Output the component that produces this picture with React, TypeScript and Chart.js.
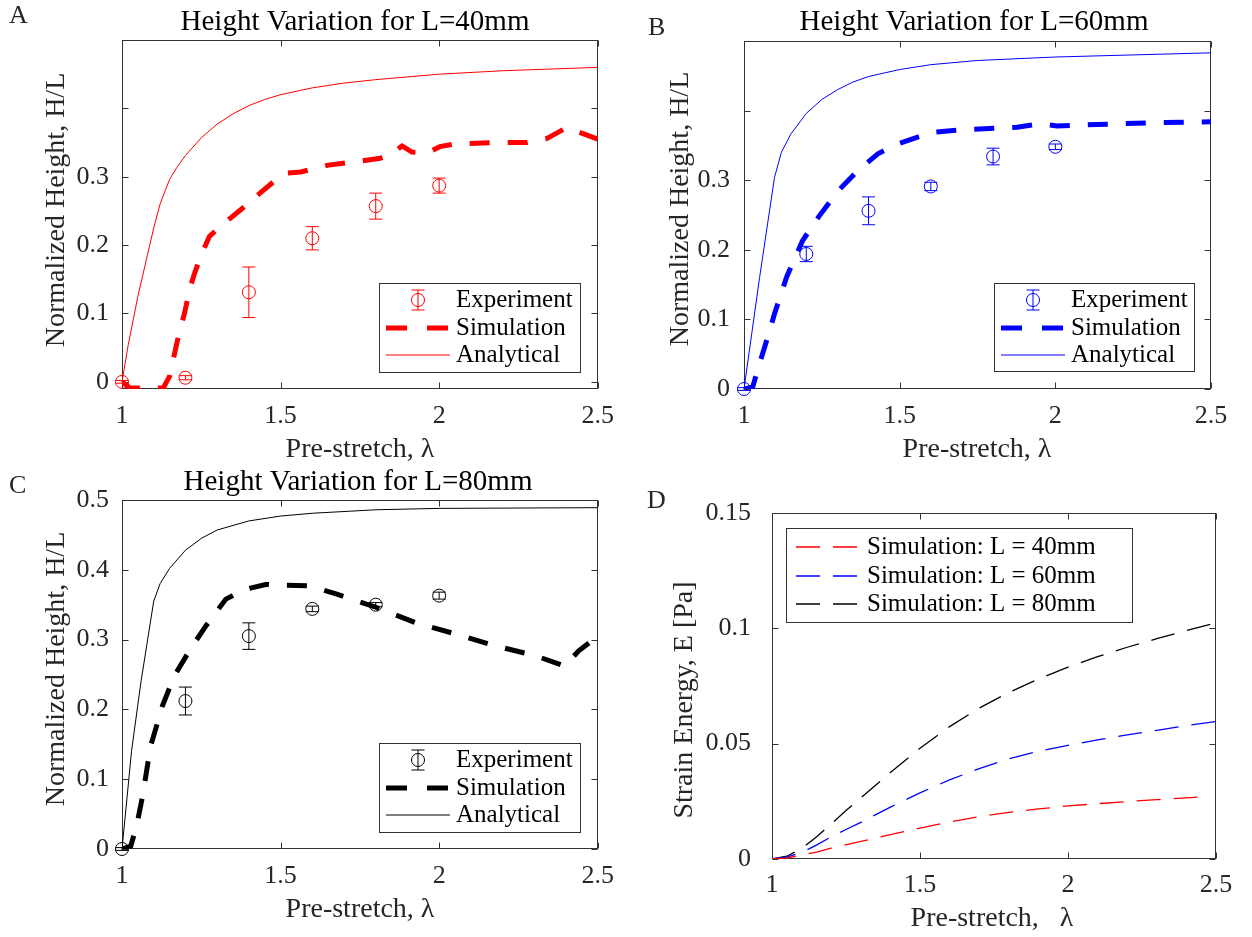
import React, { useEffect, useRef } from 'react';
import { Chart, registerables } from 'chart.js';

Chart.register(...registerables);

const FONT = '"Liberation Serif", "Times New Roman", serif';
const AXIS_COLOR = '#333333';

// ---------- shared ticks ----------
const xTickValues = [1, 1.5, 2, 2.5];
const xTickLabels = ['1', '1.5', '2', '2.5'];
const yTickValuesAB = [0, 0.1, 0.2, 0.3, 0.4];
const yTickLabelsAB = ['0', '0.1', '0.2', '0.3', ''];
const yTickValuesC = [0, 0.1, 0.2, 0.3, 0.4, 0.5];
const yTickLabelsC = ['0', '0.1', '0.2', '0.3', '0.4', '0.5'];
const yTickValuesD = [0, 0.05, 0.1, 0.15];
const yTickLabelsD = ['0', '0.05', '0.1', '0.15'];

// ---------- Panel A (L = 40mm) ----------
const lambdaExpA = [1.0, 1.2, 1.4, 1.6, 1.8, 2.0];
const heightExpA = [0.0, 0.006, 0.131, 0.21, 0.257, 0.287];
const errorExpA = [0.002, 0.003, 0.037, 0.017, 0.019, 0.011];
const lambdaSimA = [1.0, 1.025, 1.06, 1.1, 1.13, 1.15, 1.166, 1.18, 1.197, 1.213, 1.229, 1.25, 1.276, 1.317, 1.375, 1.422, 1.484, 1.513, 1.563, 1.651, 1.739, 1.814, 1.851, 1.883, 1.914, 1.964, 2.002, 2.052, 2.177, 2.277, 2.34, 2.402, 2.5];
const heightSimA = [0.0, -0.009, -0.009, -0.009, -0.009, 0.008, 0.042, 0.071, 0.1, 0.135, 0.159, 0.186, 0.213, 0.23, 0.252, 0.271, 0.295, 0.305, 0.307, 0.317, 0.322, 0.327, 0.334, 0.345, 0.336, 0.335, 0.344, 0.348, 0.35, 0.35, 0.356, 0.372, 0.355];
const lambdaAnaA = [1.0, 1.02, 1.05, 1.08, 1.1, 1.12, 1.15, 1.175, 1.2, 1.25, 1.3, 1.35, 1.4, 1.45, 1.5, 1.6, 1.7, 1.8, 1.9, 2.0, 2.2, 2.5];
const heightAnaA = [0.0, 0.055, 0.125, 0.185, 0.225, 0.26, 0.296, 0.315, 0.331, 0.357, 0.377, 0.392, 0.404, 0.413, 0.42, 0.43, 0.437, 0.442, 0.446, 0.45, 0.455, 0.46];

// ---------- Panel B (L = 60mm) ----------
const lambdaExpB = [1.0, 1.2, 1.4, 1.6, 1.8, 2.0];
const heightExpB = [0.0, 0.194, 0.256, 0.291, 0.334, 0.348];
const errorExpB = [0.002, 0.011, 0.02, 0.006, 0.012, 0.004];
const lambdaSimB = [1.0, 1.028, 1.047, 1.073, 1.098, 1.137, 1.188, 1.239, 1.303, 1.366, 1.43, 1.494, 1.558, 1.609, 1.686, 1.814, 1.877, 1.903, 1.954, 2.005, 2.133, 2.26, 2.5];
const heightSimB = [0.0, 0.003, 0.032, 0.07, 0.108, 0.161, 0.213, 0.247, 0.285, 0.314, 0.338, 0.352, 0.362, 0.369, 0.372, 0.375, 0.376, 0.378, 0.381, 0.378, 0.38, 0.382, 0.384];
const lambdaAnaB = [1.0, 1.05, 1.098, 1.12, 1.15, 1.2, 1.25, 1.3, 1.35, 1.4, 1.5, 1.6, 1.75, 2.0, 2.25, 2.5];
const heightAnaB = [0.0, 0.16, 0.304, 0.34, 0.366, 0.396, 0.416, 0.43, 0.441, 0.449, 0.459, 0.466, 0.472, 0.477, 0.48, 0.483];

// ---------- Panel C (L = 80mm) ----------
const lambdaExpC = [1.0, 1.2, 1.4, 1.6, 1.8, 2.0];
const heightExpC = [0.0, 0.212, 0.305, 0.344, 0.35, 0.363];
const errorExpC = [0.002, 0.02, 0.019, 0.004, 0.003, 0.005];
const lambdaSimC = [1.0, 1.0275, 1.046, 1.065, 1.09, 1.1275, 1.165, 1.215, 1.265, 1.3275, 1.39, 1.4525, 1.515, 1.59, 1.6775, 1.8025, 1.9275, 2.0525, 2.1775, 2.3025, 2.396, 2.44, 2.5];
const heightSimC = [0.0, 0.004, 0.033, 0.076, 0.147, 0.205, 0.248, 0.286, 0.32, 0.358, 0.372, 0.379, 0.378, 0.377, 0.365, 0.346, 0.324, 0.308, 0.291, 0.277, 0.262, 0.284, 0.305];
const lambdaAnaC = [1.0, 1.013, 1.03, 1.06, 1.1, 1.12, 1.15, 1.2, 1.25, 1.3, 1.4, 1.5, 1.6, 1.8, 2.0, 2.5];
const heightAnaC = [0.0, 0.06, 0.14, 0.24, 0.355, 0.38, 0.402, 0.428, 0.445, 0.457, 0.47, 0.477, 0.481, 0.486, 0.488, 0.489];

// ---------- Panel D (strain energy) ----------
const lambdaD40 = [1.0, 1.05, 1.1, 1.15, 1.2, 1.3, 1.4, 1.5, 1.6, 1.7, 1.8, 1.9, 2.0, 2.1, 2.2, 2.3, 2.4, 2.45];
const energyD40 = [0.0, 0.0004, 0.0017, 0.003, 0.0047, 0.0076, 0.0106, 0.0134, 0.0161, 0.0184, 0.0202, 0.0217, 0.023, 0.024, 0.0249, 0.0257, 0.0265, 0.0269];
const lambdaD60 = [1.0, 1.05, 1.1, 1.15, 1.2, 1.25, 1.3, 1.4, 1.5, 1.6, 1.7, 1.8, 1.9, 2.0, 2.1, 2.2, 2.3, 2.4, 2.5];
const energyD60 = [0.0, 0.0008, 0.0028, 0.006, 0.0096, 0.0128, 0.0159, 0.0225, 0.0287, 0.0343, 0.0392, 0.0434, 0.0467, 0.0493, 0.0516, 0.0538, 0.0558, 0.0578, 0.0596];
const lambdaD80 = [1.0, 1.05, 1.1, 1.15, 1.2, 1.25, 1.3, 1.4, 1.5, 1.6, 1.7, 1.8, 1.9, 2.0, 2.1, 2.2, 2.3, 2.4, 2.5];
const energyD80 = [0.0, 0.0012, 0.0045, 0.0095, 0.0152, 0.021, 0.0265, 0.0375, 0.048, 0.0574, 0.0654, 0.0722, 0.078, 0.0832, 0.0877, 0.0918, 0.0955, 0.099, 0.1024];

const zip = (xs: number[], ys: number[]) => xs.map((x, i) => ({ x, y: ys[i] }));

type Box = { x: number; y: number; w: number; h: number };
type Area = { l: number; t: number; r: number; b: number };
type TextItem = { text: string; x: number; y: number; size: number; rotate?: boolean; align?: CanvasTextAlign; color?: string };
type LegendRow = { kind: 'exp' | 'sim' | 'ana' | 'dash'; label: string; y: number; color: string };
type LegendSpec = { box: Area; rows: LegendRow[]; symX0: number; symX1: number; markerX: number; textX: number; size: number };
type ErrSpec = { xs: number[]; ys: number[]; errs: number[]; color: string };

type Spec = {
  canvas: Box;
  area: Area;
  yMin: number;
  yMax: number;
  yTicks: number[];
  yLabels: string[];
  yPad: number;
  xPad: number;
  datasets: any[];
  errors: ErrSpec[];
  texts: TextItem[];
  legend: LegendSpec;
};

const YW = 90;
const XH = 50;
const SIM_DASH = [20, 18];
const D_DASH = [24, 13];

function expDataset(xs: number[], ys: number[], color: string) {
  return {
    data: zip(xs, ys),
    showLine: false,
    borderColor: color,
    backgroundColor: 'rgba(0,0,0,0)',
    pointRadius: 6.5,
    pointBorderWidth: 1,
    pointStyle: 'circle',
    clip: false,
  };
}
function simDataset(xs: number[], ys: number[], color: string) {
  return {
    data: zip(xs, ys),
    borderColor: color,
    borderWidth: 5,
    borderDash: SIM_DASH,
    borderCapStyle: 'butt',
    pointRadius: 0,
    tension: 0,
    fill: false,
  };
}
function anaDataset(xs: number[], ys: number[], color: string) {
  return {
    data: zip(xs, ys),
    borderColor: color,
    borderWidth: 1,
    pointRadius: 0,
    tension: 0,
    fill: false,
  };
}
function dDataset(xs: number[], ys: number[], color: string) {
  return {
    data: zip(xs, ys),
    borderColor: color,
    borderWidth: 1.3,
    borderDash: D_DASH,
    borderCapStyle: 'butt',
    pointRadius: 0,
    tension: 0,
    fill: false,
  };
}

function heightLegend(box: Area, color: string): LegendSpec {
  const cy = box.t + 17;
  return {
    box,
    rows: [
      { kind: 'exp', label: 'Experiment', y: cy, color },
      { kind: 'sim', label: 'Simulation', y: cy + 28, color },
      { kind: 'ana', label: 'Analytical', y: cy + 55, color },
    ],
    symX0: box.l + 7,
    symX1: box.l + 71,
    markerX: box.l + 39,
    textX: box.l + 77,
    size: 25,
  };
}

const specA: Spec = {
  canvas: { x: 0, y: 0, w: 626, h: 468 },
  area: { l: 122, t: 40, r: 599, b: 389 },
  yMin: -0.0105,
  yMax: 0.5,
  yTicks: yTickValuesAB,
  yLabels: yTickLabelsAB,
  yPad: 13,
  xPad: 12,
  datasets: [
    expDataset(lambdaExpA, heightExpA, '#ff0000'),
    simDataset(lambdaSimA, heightSimA, '#ff0000'),
    anaDataset(lambdaAnaA, heightAnaA, '#ff0000'),
  ],
  errors: [{ xs: lambdaExpA, ys: heightExpA, errs: errorExpA, color: '#ff0000' }],
  texts: [
    { text: 'A', x: 9, y: 23, size: 26 },
    { text: 'Height Variation for L=40mm', x: 355, y: 30, size: 29, align: 'center', color: '#000' },
    { text: 'Pre-stretch, λ', x: 360, y: 457, size: 28, align: 'center' },
    { text: 'Normalized Height, H/L', x: 64, y: 210, size: 28, rotate: true },
  ],
  legend: heightLegend({ l: 379, t: 283, r: 580, b: 372 }, '#ff0000'),
};

const specB: Spec = {
  canvas: { x: 626, y: 0, w: 626, h: 468 },
  area: { l: 744, t: 41, r: 1211, b: 389 },
  yMin: 0,
  yMax: 0.5,
  yTicks: yTickValuesAB,
  yLabels: yTickLabelsAB,
  yPad: 14,
  xPad: 12,
  datasets: [
    expDataset(lambdaExpB, heightExpB, '#0000ff'),
    simDataset(lambdaSimB, heightSimB, '#0000ff'),
    anaDataset(lambdaAnaB, heightAnaB, '#0000ff'),
  ],
  errors: [{ xs: lambdaExpB, ys: heightExpB, errs: errorExpB, color: '#0000ff' }],
  texts: [
    { text: 'B', x: 648, y: 35, size: 26 },
    { text: 'Height Variation for L=60mm', x: 974, y: 30, size: 29, align: 'center', color: '#000' },
    { text: 'Pre-stretch, λ', x: 977, y: 457, size: 28, align: 'center' },
    { text: 'Normalized Height, H/L', x: 688, y: 209, size: 28, rotate: true },
  ],
  legend: heightLegend({ l: 994, t: 283, r: 1194, b: 371 }, '#0000ff'),
};

const specC: Spec = {
  canvas: { x: 0, y: 468, w: 626, h: 469 },
  area: { l: 122, t: 500, r: 599, b: 849 },
  yMin: 0,
  yMax: 0.5,
  yTicks: yTickValuesC,
  yLabels: yTickLabelsC,
  yPad: 13,
  xPad: 12,
  datasets: [
    expDataset(lambdaExpC, heightExpC, '#000000'),
    simDataset(lambdaSimC, heightSimC, '#000000'),
    anaDataset(lambdaAnaC, heightAnaC, '#000000'),
  ],
  errors: [{ xs: lambdaExpC, ys: heightExpC, errs: errorExpC, color: '#000000' }],
  texts: [
    { text: 'C', x: 9, y: 493, size: 26 },
    { text: 'Height Variation for L=80mm', x: 358, y: 490, size: 29, align: 'center', color: '#000' },
    { text: 'Pre-stretch, λ', x: 360, y: 917, size: 28, align: 'center' },
    { text: 'Normalized Height, H/L', x: 64, y: 669, size: 28, rotate: true },
  ],
  legend: heightLegend({ l: 379, t: 743, r: 580, b: 832 }, '#000000'),
};

const specD: Spec = {
  canvas: { x: 626, y: 468, w: 626, h: 469 },
  area: { l: 772, t: 513, r: 1216, b: 859 },
  yMin: 0,
  yMax: 0.15,
  yTicks: yTickValuesD,
  yLabels: yTickLabelsD,
  yPad: 21,
  xPad: 11,
  datasets: [
    dDataset(lambdaD40, energyD40, '#ff0000'),
    dDataset(lambdaD60, energyD60, '#0000ff'),
    dDataset(lambdaD80, energyD80, '#000000'),
  ],
  errors: [],
  texts: [
    { text: 'D', x: 647, y: 508, size: 26 },
    { text: 'Pre-stretch,   λ', x: 992, y: 926, size: 28, align: 'center' },
    { text: 'Strain Energy, E [Pa]', x: 692, y: 700, size: 28, rotate: true },
  ],
  legend: {
    box: { l: 786, t: 528, r: 1132, b: 622 },
    rows: [
      { kind: 'dash', label: 'Simulation: L = 40mm', y: 547, color: '#ff0000' },
      { kind: 'dash', label: 'Simulation: L = 60mm', y: 576, color: '#0000ff' },
      { kind: 'dash', label: 'Simulation: L = 80mm', y: 604, color: '#000000' },
    ],
    symX0: 796,
    symX1: 857,
    markerX: 826,
    textX: 867,
    size: 25,
  },
};

function makeDeco(spec: Spec) {
  const ox = spec.canvas.x;
  const oy = spec.canvas.y;
  return {
    id: 'deco',
    beforeDatasetsDraw(chart: any) {
      const { ctx, chartArea: a, scales } = chart;
      ctx.save();
      ctx.strokeStyle = AXIS_COLOR;
      ctx.lineWidth = 1;
      ctx.setLineDash([]);
      const L = Math.round(a.left) + 0.5;
      const T = Math.round(a.top) + 0.5;
      const R = Math.round(a.right) - 0.5;
      const B = Math.round(a.bottom) - 0.5;
      ctx.strokeRect(L, T, R - L, B - T);
      const TL = 6;
      ctx.beginPath();
      for (const v of xTickValues) {
        const px = Math.round(scales.x.getPixelForValue(v)) + 0.5;
        ctx.moveTo(px, B);
        ctx.lineTo(px, B - TL);
        ctx.moveTo(px, T);
        ctx.lineTo(px, T + TL);
      }
      for (const v of spec.yTicks) {
        const py = Math.round(scales.y.getPixelForValue(v)) + 0.5;
        ctx.moveTo(L, py);
        ctx.lineTo(L + TL, py);
        ctx.moveTo(R, py);
        ctx.lineTo(R - TL, py);
      }
      ctx.stroke();
      ctx.restore();
    },
    afterDatasetsDraw(chart: any) {
      const { ctx, scales } = chart;
      ctx.save();
      ctx.lineWidth = 1;
      ctx.setLineDash([]);
      for (const e of spec.errors) {
        ctx.strokeStyle = e.color;
        e.xs.forEach((xv, i) => {
          const px = scales.x.getPixelForValue(xv);
          const top = scales.y.getPixelForValue(e.ys[i] + e.errs[i]);
          const bot = scales.y.getPixelForValue(e.ys[i] - e.errs[i]);
          const cw = 6.5;
          ctx.beginPath();
          ctx.moveTo(px, top);
          ctx.lineTo(px, bot);
          ctx.moveTo(px - cw, top);
          ctx.lineTo(px + cw, top);
          ctx.moveTo(px - cw, bot);
          ctx.lineTo(px + cw, bot);
          ctx.stroke();
        });
      }
      ctx.restore();
    },
    afterDraw(chart: any) {
      const { ctx } = chart;
      ctx.save();
      for (const t of spec.texts) {
        ctx.font = `${t.size}px ${FONT}`;
        ctx.fillStyle = t.color || '#262626';
        ctx.textBaseline = 'alphabetic';
        if (t.rotate) {
          ctx.save();
          ctx.translate(t.x - ox, t.y - oy);
          ctx.rotate(-Math.PI / 2);
          ctx.textAlign = 'center';
          ctx.fillText(t.text, 0, 0);
          ctx.restore();
        } else {
          ctx.textAlign = t.align || 'left';
          ctx.fillText(t.text, t.x - ox, t.y - oy);
        }
      }
      const lg = spec.legend;
      const bl = Math.round(lg.box.l - ox) + 0.5;
      const bt = Math.round(lg.box.t - oy) + 0.5;
      const bw = Math.round(lg.box.r - lg.box.l);
      const bh = Math.round(lg.box.b - lg.box.t);
      ctx.fillStyle = '#ffffff';
      ctx.fillRect(bl, bt, bw, bh);
      ctx.strokeStyle = AXIS_COLOR;
      ctx.lineWidth = 1;
      ctx.setLineDash([]);
      ctx.strokeRect(bl, bt, bw, bh);
      for (const row of lg.rows) {
        const y = row.y - oy;
        const x0 = lg.symX0 - ox;
        const x1 = lg.symX1 - ox;
        ctx.strokeStyle = row.color;
        ctx.lineCap = 'butt';
        if (row.kind === 'exp') {
          const mx = lg.markerX - ox;
          ctx.lineWidth = 1;
          ctx.setLineDash([]);
          ctx.beginPath();
          ctx.arc(mx, y, 6.5, 0, Math.PI * 2);
          ctx.moveTo(mx, y - 10);
          ctx.lineTo(mx, y + 10);
          ctx.moveTo(mx - 6.5, y - 10);
          ctx.lineTo(mx + 6.5, y - 10);
          ctx.moveTo(mx - 6.5, y + 10);
          ctx.lineTo(mx + 6.5, y + 10);
          ctx.stroke();
        } else if (row.kind === 'sim') {
          ctx.lineWidth = 5;
          ctx.setLineDash([21, 20]);
          ctx.beginPath();
          ctx.moveTo(x0, y);
          ctx.lineTo(x1, y);
          ctx.stroke();
        } else if (row.kind === 'dash') {
          ctx.lineWidth = 1.3;
          ctx.setLineDash(D_DASH);
          ctx.beginPath();
          ctx.moveTo(x0, y);
          ctx.lineTo(x1, y);
          ctx.stroke();
        } else {
          ctx.lineWidth = 1;
          ctx.setLineDash([]);
          ctx.beginPath();
          ctx.moveTo(x0, y);
          ctx.lineTo(x1, y);
          ctx.stroke();
        }
        ctx.setLineDash([]);
        ctx.font = `${lg.size}px ${FONT}`;
        ctx.fillStyle = '#000000';
        ctx.textAlign = 'left';
        ctx.textBaseline = 'middle';
        ctx.fillText(row.label, lg.textX - ox, y);
      }
      ctx.restore();
    },
  };
}

function buildConfig(spec: Spec): any {
  const { canvas: c, area: a } = spec;
  return {
    type: 'line',
    data: { datasets: spec.datasets },
    options: {
      animation: false,
      responsive: false,
      devicePixelRatio: 1,
      events: [],
      layout: {
        padding: {
          left: a.l - c.x - YW,
          top: a.t - c.y,
          right: c.x + c.w - a.r,
          bottom: c.y + c.h - a.b - XH,
        },
      },
      plugins: {
        legend: { display: false },
        tooltip: { enabled: false },
        title: { display: false },
      },
      scales: {
        x: {
          type: 'linear',
          min: 1,
          max: 2.5,
          bounds: 'data',
          grid: { display: false, drawTicks: false },
          border: { display: false },
          ticks: {
            padding: spec.xPad,
            color: '#262626',
            font: { family: FONT, size: 26 },
            maxRotation: 0,
            autoSkip: false,
            callback: (_v: any, i: number) => xTickLabels[i],
          },
          afterBuildTicks: (s: any) => {
            s.ticks = xTickValues.map((v) => ({ value: v }));
          },
          afterFit: (s: any) => {
            s.height = XH;
          },
        },
        y: {
          type: 'linear',
          min: spec.yMin,
          max: spec.yMax,
          bounds: 'data',
          grid: { display: false, drawTicks: false },
          border: { display: false },
          ticks: {
            padding: spec.yPad,
            color: '#262626',
            font: { family: FONT, size: 26 },
            autoSkip: false,
            callback: (_v: any, i: number) => spec.yLabels[i],
          },
          afterBuildTicks: (s: any) => {
            s.ticks = spec.yTicks.map((v) => ({ value: v }));
          },
          afterFit: (s: any) => {
            s.width = YW;
          },
        },
      },
    },
    plugins: [makeDeco(spec)],
  };
}

function Panel({ spec }: { spec: Spec }) {
  const ref = useRef<HTMLCanvasElement>(null);
  useEffect(() => {
    if (!ref.current) return;
    const chart = new Chart(ref.current, buildConfig(spec));
    return () => chart.destroy();
  }, [spec]);
  const c = spec.canvas;
  return (
    <canvas
      ref={ref}
      width={c.w}
      height={c.h}
      style={{ position: 'absolute', left: c.x, top: c.y, width: c.w, height: c.h }}
    />
  );
}

export default function App() {
  return (
    <div
      style={{
        position: 'absolute',
        left: 0,
        top: 0,
        width: 1252,
        height: 937,
        background: '#ffffff',
        overflow: 'hidden',
      }}
    >
      <Panel spec={specA} />
      <Panel spec={specB} />
      <Panel spec={specC} />
      <Panel spec={specD} />
    </div>
  );
}
